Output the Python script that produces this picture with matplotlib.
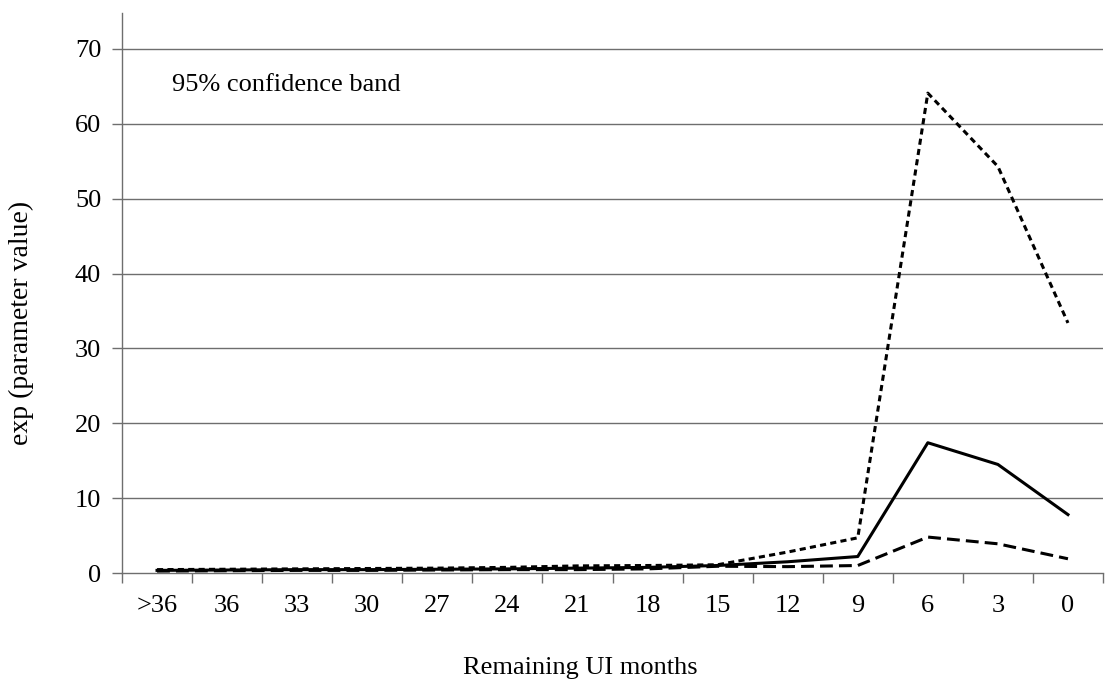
import matplotlib
matplotlib.use("Agg")
import matplotlib.pyplot as plt
import numpy as np

categories = [">36", "36", "33", "30", "27", "24", "21", "18", "15", "12", "9", "6", "3", "0"]
estimate = [0.35, 0.40, 0.45, 0.45, 0.50, 0.55, 0.65, 0.75, 1.0, 1.5, 2.2, 17.4, 14.5, 7.8]
upper = [0.45, 0.50, 0.55, 0.60, 0.65, 0.75, 0.95, 1.0, 1.1, 2.8, 4.7, 64.1, 54.3, 33.4]
lower = [0.25, 0.30, 0.35, 0.35, 0.40, 0.45, 0.45, 0.55, 0.9, 0.85, 1.0, 4.8, 3.9, 1.9]
yticks = [0, 10, 20, 30, 40, 50, 60, 70]

plt.rcParams['font.family'] = ['Liberation Serif', 'DejaVu Serif']
FS = 19

fig = plt.figure(figsize=(11.07, 6.81), dpi=100)
ax = fig.add_axes([122/1107, 108/681, 981/1107, 560/681])

x = np.arange(len(categories))
ax.plot(x, upper, color='black', lw=2.2, linestyle=(0, (2.0, 1.4)))
ax.plot(x, lower, color='black', lw=2.2, linestyle=(0, (4.2, 2.0)))
ax.plot(x, estimate, color='black', lw=2.2, linestyle='-')

ax.set_xlim(-0.5, len(categories) - 0.5)
ax.set_ylim(0, 74.8)
ax.set_yticks(yticks)
ax.set_yticklabels([str(v) for v in yticks], fontsize=FS)
for v in yticks[1:]:
    ax.axhline(v, color='#6e6e6e', lw=1.0, zorder=0)

ax.set_xticks(x)
ax.set_xticklabels(categories, fontsize=FS)
ax.tick_params(axis='x', length=0, pad=16)
ax.set_xticks(np.arange(len(categories) + 1) - 0.5, minor=True)
ax.tick_params(axis='x', which='minor', length=7, width=1, color='#6e6e6e', direction='out')
ax.tick_params(axis='y', length=7, width=1, color='#6e6e6e', direction='out', pad=8)

for s in ['top', 'right']:
    ax.spines[s].set_visible(False)
for s in ['left', 'bottom']:
    ax.spines[s].set_color('#6e6e6e')
    ax.spines[s].set_linewidth(1.0)

ax.text(0.21, 65.2, "95% confidence band", fontsize=FS, va='center', ha='left')

fig.text(580/1107, 1 - 674/681, "Remaining UI months", fontsize=FS, ha='center', va='baseline')
fig.text(21/1107, 1 - 323/681, "exp (parameter value)", fontsize=20, ha='center', va='center', rotation=90)

fig.savefig("out.png", dpi=100)
